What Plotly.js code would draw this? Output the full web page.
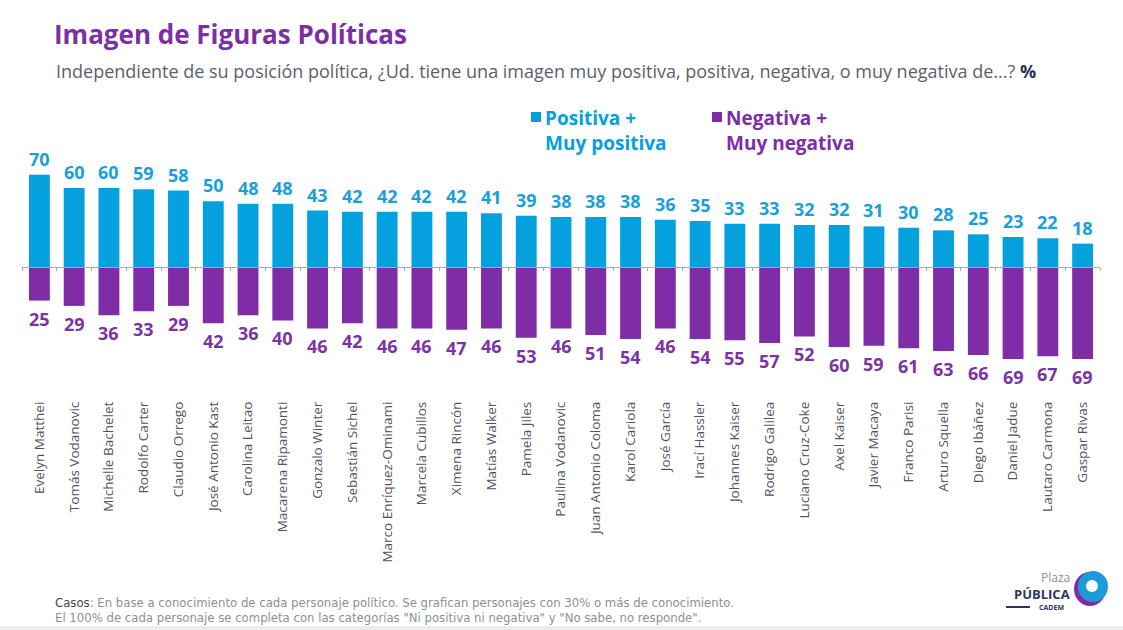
<!DOCTYPE html>
<html>
<head>
<meta charset="utf-8">
<script src="https://cdn.plot.ly/plotly-3.0.1.min.js"></script>
<style>
  html, body { margin: 0; padding: 0; background: #ffffff; }
  #chart { width: 1123px; height: 630px; }
</style>
</head>
<body>
<div id="chart"></div>
<script>
// ---------------- DATA ----------------
const names = [
  "Evelyn Matthei", "Tomás Vodanovic", "Michelle Bachelet", "Rodolfo Carter", "Claudio Orrego",
  "José Antonio Kast", "Carolina Leitao", "Macarena Ripamonti", "Gonzalo Winter", "Sebastián Sichel",
  "Marco Enríquez-Ominami", "Marcela Cubillos", "Ximena Rincón", "Matías Walker", "Pamela Jiles",
  "Paulina Vodanovic", "Juan Antonio Coloma", "Karol Cariola", "José García", "Irací Hassler",
  "Johannes Kaiser", "Rodrigo Galilea", "Luciano Cruz-Coke", "Axel Kaiser", "Javier Macaya",
  "Franco Parisi", "Arturo Squella", "Diego Ibáñez", "Daniel Jadue", "Lautaro Carmona", "Gaspar Rivas"
];
const positive = [70, 60, 60, 59, 58, 50, 48, 48, 43, 42, 42, 42, 42, 41, 39, 38, 38, 38, 36, 35, 33, 33, 32, 32, 31, 30, 28, 25, 23, 22, 18];
const negative = [25, 29, 36, 33, 29, 42, 36, 40, 46, 42, 46, 46, 47, 46, 53, 46, 51, 54, 46, 54, 55, 57, 52, 60, 59, 61, 63, 66, 69, 67, 69];
const seriesNames = ["Positiva +<br>Muy positiva", "Negativa +<br>Muy negativa"];

// ---------------- STYLE ----------------
const BLUE = "#05A0DE";
const PURPLE = "#7E2DA7";
const BLUE_TXT = "#1B9FD8";
const PURPLE_TXT = "#7A35A2";
const GREY = "#5B5F6B";

const W = 1123, H = 630;
const M = { l: 22, r: 23, t: 140, b: 232 };
const plotW = W - M.l - M.r, plotH = H - M.t - M.b;
const yRange = [-98.5, 96.2];
const px = x => (x - M.l) / plotW;           // pixel -> paper x
const py = y => (H - M.b - y) / plotH;        // pixel -> paper y

const negValues = negative.map(v => -v);

const traces = [
  {
    type: "bar", x: names, y: positive, name: seriesNames[0],
    marker: { color: BLUE }, hoverinfo: "skip", showlegend: false
  },
  {
    type: "bar", x: names, y: negValues, name: seriesNames[1],
    marker: { color: PURPLE }, hoverinfo: "skip", showlegend: false
  },
  {
    // invisible helper to carry the baseline axis with boundary ticks
    type: "scatter", mode: "markers", x: names, y: positive, xaxis: "x2",
    marker: { opacity: 0 }, showlegend: false, hoverinfo: "skip"
  }
];

const valueFont = { family: "Open Sans, Noto Sans, sans-serif", size: 18, weight: 700 };
const annotations = [];
names.forEach((n, i) => {
  annotations.push({
    x: n, y: positive[i], xref: "x", yref: "y", text: String(positive[i]),
    showarrow: false, yanchor: "middle", yshift: 16,
    font: Object.assign({ color: BLUE_TXT }, valueFont)
  });
  annotations.push({
    x: n, y: negValues[i], xref: "x", yref: "y", text: String(negative[i]),
    showarrow: false, yanchor: "middle", yshift: -18,
    font: Object.assign({ color: PURPLE_TXT }, valueFont)
  });
});

// custom legend (square + two-line label)
const legendFont = { family: "Open Sans, Noto Sans, sans-serif", size: 19, weight: 700 };
const legendDefs = [
  { sq: 531, tx: 543, color: BLUE, text: seriesNames[0] },
  { sq: 712, tx: 724, color: PURPLE, text: seriesNames[1] }
];
legendDefs.forEach(d => {
  annotations.push({
    xref: "paper", yref: "paper", x: px(d.tx), y: py(103), xanchor: "left", yanchor: "top",
    align: "left", showarrow: false, text: d.text,
    font: Object.assign({ color: d.color }, legendFont)
  });
});

// subtitle
annotations.push({
  xref: "paper", yref: "paper", x: px(54), y: py(71), xanchor: "left", yanchor: "middle",
  showarrow: false,
  text: "Independiente de su posición política, ¿Ud. tiene una imagen muy positiva, positiva, negativa, o muy negativa de...? <b style='color:#2B3150'>%</b>",
  font: { family: "Open Sans, Noto Sans, sans-serif", size: 18, color: GREY }
});
// footer
const footFont = { family: "Liberation Sans Narrow, DejaVu Sans Condensed, Roboto, sans-serif", size: 13, color: "#8C8F98" };
annotations.push({
  xref: "paper", yref: "paper", x: px(53), y: py(602), xanchor: "left", yanchor: "middle",
  showarrow: false,
  text: "<span style='color:#3F4352'>Casos</span>: En base a conocimiento de cada personaje político. Se grafican personajes con 30% o más de conocimiento.",
  font: footFont
});
annotations.push({
  xref: "paper", yref: "paper", x: px(53), y: py(617), xanchor: "left", yanchor: "middle",
  showarrow: false,
  text: "El 100% de cada personaje se completa con las categorías \"Ni positiva ni negativa\" y \"No sabe, no responde\".",
  font: footFont
});
// logo text
annotations.push({
  xref: "paper", yref: "paper", x: px(1072), y: py(577), xanchor: "right", yanchor: "middle",
  showarrow: false, text: "Plaza",
  font: { family: "Open Sans, sans-serif", size: 12, color: "#8A8E9C" }
});
annotations.push({
  xref: "paper", yref: "paper", x: px(1072), y: py(594), xanchor: "right", yanchor: "middle",
  showarrow: false, text: "<b>PÚBLICA</b>",
  font: { family: "Open Sans, sans-serif", size: 13, color: "#2D3561" }
});
annotations.push({
  xref: "paper", yref: "paper", x: px(1066), y: py(607), xanchor: "right", yanchor: "middle",
  showarrow: false, text: "<b>CADEM</b>",
  font: { family: "Open Sans, sans-serif", size: 7, color: "#2D3561" }
});

const shapes = [
  // legend squares
  { type: "rect", xref: "paper", yref: "paper", x0: px(legendDefs[0].sq), x1: px(legendDefs[0].sq + 10),
    y0: py(122), y1: py(112), fillcolor: BLUE, line: { width: 0 } },
  { type: "rect", xref: "paper", yref: "paper", x0: px(legendDefs[1].sq), x1: px(legendDefs[1].sq + 10),
    y0: py(122), y1: py(112), fillcolor: PURPLE, line: { width: 0 } },
  // logo bubble
  { type: "circle", xref: "paper", yref: "paper", x0: px(1074), x1: px(1106), y0: py(606), y1: py(572),
    fillcolor: PURPLE, line: { width: 0 } },
  { type: "circle", xref: "paper", yref: "paper", x0: px(1078), x1: px(1108), y0: py(602), y1: py(571),
    fillcolor: "#1C9BD8", line: { width: 0 } },
  { type: "circle", xref: "paper", yref: "paper", x0: px(1086), x1: px(1098), y0: py(592), y1: py(580),
    fillcolor: "#ffffff", line: { width: 0 } },
  { type: "line", xref: "paper", yref: "paper", x0: px(1006), x1: px(1030), y0: py(607), y1: py(607),
    line: { color: "#2D3561", width: 2 } },
  // faint band at the bottom
  { type: "rect", xref: "paper", yref: "paper", x0: px(0), x1: px(W), y0: py(630), y1: py(626),
    fillcolor: "#ECECEE", line: { width: 0 } }
];

const layout = {
  width: W, height: H,
  margin: M,
  paper_bgcolor: "#ffffff", plot_bgcolor: "#ffffff",
  barmode: "relative",
  bargap: 0.4,
  title: {
    text: "<b>Imagen de Figuras Políticas</b>",
    xref: "container", yref: "container",
    x: 54 / W, xanchor: "left", y: 1 - 35 / H, yanchor: "middle",
    font: { family: "Open Sans, Noto Sans, sans-serif", size: 26, color: "#7B2FA6" }
  },
  showlegend: false,
  xaxis: {
    type: "category",
    range: [-0.5, names.length - 0.5],
    tickangle: -90,
    showline: false, showgrid: false, zeroline: false,
    ticks: "", ticklen: 0,
    tickfont: { family: "Open Sans, Noto Sans, sans-serif", size: 13.5, color: "#50545F" },
    fixedrange: true
  },
  xaxis2: {
    type: "category",
    overlaying: "x",
    anchor: "free",
    position: (0 - yRange[0]) / (yRange[1] - yRange[0]),
    range: [-0.5, names.length - 0.5],
    showticklabels: false,
    showline: true, linecolor: "#A7A9AE", linewidth: 1,
    ticks: "outside", tickson: "boundaries", ticklen: 3, tickcolor: "#A7A9AE", tickwidth: 1,
    showgrid: false, zeroline: false, fixedrange: true
  },
  yaxis: {
    range: yRange,
    visible: false,
    showgrid: false, zeroline: false,
    fixedrange: true
  },
  annotations: annotations,
  shapes: shapes
};

Plotly.newPlot("chart", traces, layout, { displayModeBar: false, staticPlot: true });
</script>
</body>
</html>
